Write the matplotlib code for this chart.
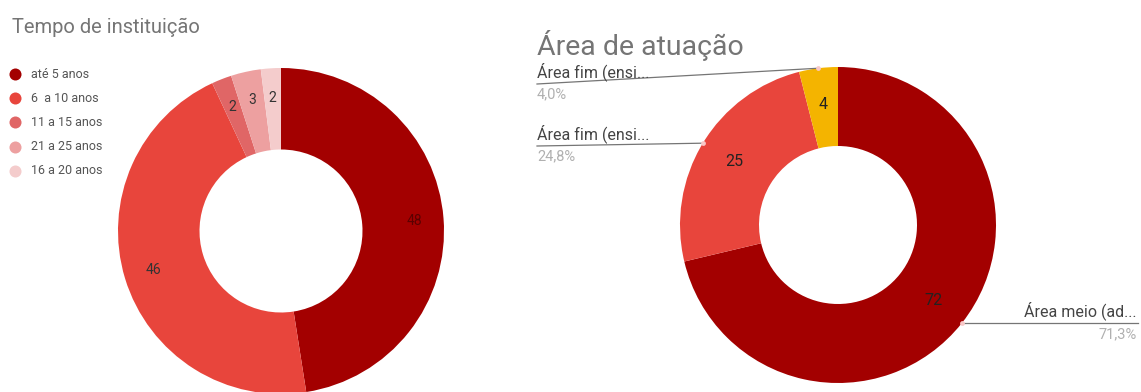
import numpy as np
import matplotlib
matplotlib.use("Agg")
import matplotlib.pyplot as plt

plt.rcParams['font.family'] = ['Roboto', 'DejaVu Sans']

# left donut: tempo de instituicao
tempo_labels = ['até 5 anos', '6  a 10 anos', '11 a 15 anos', '21 a 25 anos', '16 a 20 anos']
tempo_values = [48, 46, 2, 3, 2]
tempo_colors = ['#a30000', '#e8453c', '#e06666', '#eda0a0', '#f4cccc']

# right donut: area de atuacao
area_labels = ['Área meio (ad...', 'Área fim (ensi...', 'Área fim (ensi...']
area_values = [72, 25, 4]
area_colors = ['#a30000', '#e8453c', '#f4b400']

W, H = 1141, 392
fig = plt.figure(figsize=(W / 100, H / 100), dpi=100)
ax = fig.add_axes([0, 0, 1, 1])

def py(y):
    # pixel row -> data y
    return H - y

def count_fmt(values):
    total = sum(values)
    return lambda p: '{:d}'.format(int(round(p * total / 100.0)))

# left donut
c1, r1 = (281, py(231)), 163
_, _, auto1 = ax.pie(tempo_values, colors=tempo_colors, startangle=90, counterclock=False,
       center=c1, radius=r1, wedgeprops=dict(width=r1 * 0.5, linewidth=0),
       autopct=count_fmt(tempo_values), pctdistance=0.82,
       textprops=dict(fontsize=10, color='#333333'))
auto1[0].set_color('#5a0000')

# right donut
c2, r2 = (838, py(225)), 158
ax.pie(area_values, colors=area_colors, startangle=90, counterclock=False,
       center=c2, radius=r2, wedgeprops=dict(width=r2 * 0.5, linewidth=0),
       autopct=count_fmt(area_values), pctdistance=0.77,
       textprops=dict(fontsize=11.5, color='#222222'))

# titles
ax.text(12, py(27), 'Tempo de instituição', fontsize=14.5, color='#757575', va='center', ha='left')
ax.text(537, py(45), 'Área de atuação', fontsize=20.5, color='#757575', va='center', ha='left')

# legend of left donut
for i, (lab, col) in enumerate(zip(tempo_labels, tempo_colors)):
    y = py(74 + i * 24.2)
    ax.scatter([15], [y], s=75, color=col, zorder=3, linewidths=0)
    ax.text(31, y, lab, fontsize=9, color='#555555', va='center', ha='left')

# callouts of right donut
total = float(sum(area_values))
cum = np.cumsum([0] + area_values)
mids = [(cum[i] + cum[i + 1]) / 2.0 / total * 2 * np.pi for i in range(len(area_values))]
edge = [(c2[0] + r2 * np.sin(a), c2[1] + r2 * np.cos(a)) for a in mids]
pcts = ['{:.1f}%'.format(v / total * 100).replace('.', ',') for v in area_values]

# 72 -> right side
ex, ey = edge[0]
ax.plot([ex, 1138], [ey, ey], color='#757575', lw=0.9)
ax.scatter([ex], [ey], s=12, color='#f8c8c8', zorder=4, linewidths=0)
ax.text(1137, ey + 3, area_labels[0], fontsize=11.5, color='#444444', ha='right', va='bottom')
ax.text(1137, ey - 4, pcts[0], fontsize=10.5, color='#b0b0b0', ha='right', va='top')

# 25 and 4 -> left side
for i, ty in [(1, 146), (2, 84)]:
    ex, ey = edge[i]
    ax.plot([537, ex], [py(ty), ey], color='#757575', lw=0.9)
    ax.scatter([ex], [ey], s=12, color='#f8c8c8', zorder=4, linewidths=0)
    ax.text(537, py(ty) + 3, area_labels[i], fontsize=11.5, color='#444444', ha='left', va='bottom')
    ax.text(537, py(ty) - 3, pcts[i], fontsize=10.5, color='#b0b0b0', ha='left', va='top')

ax.set_xlim(0, W)
ax.set_ylim(0, H)
ax.set_aspect('auto')
ax.set_axis_off()

fig.savefig('out.png', dpi=100)
